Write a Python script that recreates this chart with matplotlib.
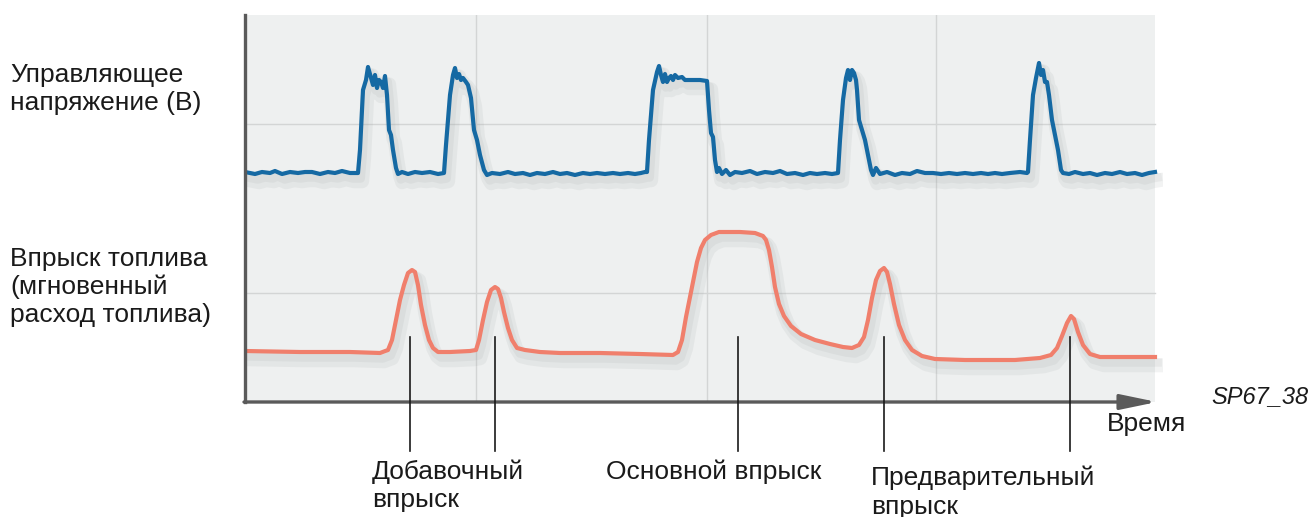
import matplotlib
matplotlib.use('Agg')
import matplotlib.pyplot as plt
import matplotlib.patheffects as pe
from matplotlib.patches import Rectangle

plt.rcParams['font.family'] = ['Liberation Sans', 'DejaVu Sans']

# control voltage trace (time, level)
t_ctrl = [0, 10, 17, 25, 30, 37, 45, 53, 60, 67, 75, 83, 90, 97, 105, 113,
          115, 118, 121, 123, 126, 128, 130, 132, 134, 136, 138, 140, 142, 144, 146, 148, 151, 153,
          157, 163, 170, 177, 185, 193, 199,
          201, 205, 208, 210, 212, 214, 216, 218, 221, 223, 226, 229, 232, 235, 239, 242,
          247, 255, 263, 270, 278, 285, 292, 300, 308, 315, 322, 330, 338, 345, 352, 360, 368, 375,
          383, 390, 396, 400,
          402, 404, 408, 412, 414, 416, 418, 420, 422, 424, 426, 428, 430, 433, 437, 440, 445, 450,
          455, 462, 464, 466, 468, 470, 472, 474, 477, 481, 485, 490, 497, 505, 512, 520, 528, 535,
          542, 550, 558, 565, 572, 580, 587, 593,
          595, 598, 601, 603, 605, 607, 609, 611, 612, 614, 617, 620, 623, 626, 628, 631, 635,
          642, 650, 657, 665, 672, 680, 688, 696, 704, 712, 720, 728, 736, 743, 750, 757, 765, 775, 782,
          783, 785, 788, 791, 794, 796, 798, 800, 802, 804, 807, 810, 813, 816, 818,
          824, 830, 838, 845, 852, 860, 867, 875, 882, 890, 897, 904, 910]
u_ctrl = [230, 228, 230, 229, 231, 228, 230, 229, 230, 230, 228, 230, 229, 231, 229, 229,
          252, 312, 322, 335, 324, 317, 327, 314, 322, 320, 314, 326, 307, 272, 267, 252, 234, 228,
          230, 228, 230, 229, 230, 228, 229,
          257, 307, 327, 334, 324, 328, 322, 324, 320, 317, 304, 272, 262, 247, 232, 227,
          229, 228, 230, 228, 229, 227, 229, 228, 230, 228, 229, 227, 229, 228, 229, 228, 229, 228,
          229, 228, 229, 230,
          230, 262, 312, 330, 336, 327, 320, 328, 320, 324, 326, 322, 327, 324, 325, 322, 322, 322,
          322, 321, 292, 269, 265, 242, 230, 234, 228, 232, 227, 230, 229, 231, 228, 230, 229, 231,
          228, 229, 227, 229, 228, 229, 228, 229,
          262, 302, 324, 332, 322, 332, 329, 322, 312, 282, 272, 262, 247, 232, 227, 234, 228,
          230, 227, 229, 228, 231, 229, 229, 228, 229, 228, 229, 228, 229, 228, 229, 228, 229, 230, 229,
          230, 262, 307, 324, 339, 327, 332, 320, 320, 307, 282, 267, 252, 232, 229,
          228, 230, 228, 229, 227, 229, 228, 230, 228, 229, 227, 229, 230]

# fuel flow rate trace
t_fuel = [0, 55, 105, 135, 143, 147, 151, 155, 159, 163, 167, 170, 173, 176, 180, 184, 188, 193,
          205, 225, 231, 234, 238, 242, 246, 250, 253, 256, 259, 263, 267, 272, 280, 295, 315,
          355, 395, 428, 433, 437, 441, 445, 448, 452, 456, 460, 466, 474, 495, 510, 518,
          521, 524, 527, 530, 534, 539, 546, 556, 570, 585, 598, 607, 614,
          619, 623, 627, 631, 635, 639, 642, 645, 649, 654, 660, 667, 677, 690, 720, 770, 795,
          806, 812, 817, 822, 826, 829, 833, 838, 845, 855, 880, 910]
q_fuel = [51, 50, 50, 49, 52, 62, 82, 102, 117, 129, 132, 130, 117, 97, 77, 62, 54, 50,
          50, 51, 52, 62, 82, 100, 112, 115, 113, 104, 90, 74, 62, 54, 52, 50, 49,
          49, 48, 47, 50, 62, 85, 105, 120, 140, 154, 162, 167, 170, 170, 169, 166,
          162, 152, 135, 115, 98, 86, 76, 68, 62, 58, 55, 54, 57,
          65, 82, 104, 122, 131, 134, 130, 118, 98, 77, 62, 52, 46, 43, 42, 42, 44,
          47, 54, 66, 79, 86, 83, 70, 57, 48, 45, 45, 45]

grid_t = [231, 462, 691]
grid_u = [109, 278]
marker_t = [165, 250, 493, 639, 825]
marker_labels = [('Добавочный\nвпрыск', 372, 459),
                 ('Основной впрыск', 606, 459),
                 ('Предварительный\nвпрыск', 871, 466)]

W, H = 1313, 517
fig = plt.figure(figsize=(W / 100, H / 100), dpi=100)
ax = fig.add_axes([245 / W, (H - 402) / H, 918 / W, 387 / H])
ax.set_xlim(0, 918)
ax.set_ylim(0, 387)
ax.set_facecolor('none')
ax.add_patch(Rectangle((0, 0), 910, 387, facecolor='#eef0f0', edgecolor='none', zorder=0))

for g in grid_t:
    ax.plot([g, g], [0, 387], color='#d3d5d5', lw=1.0, zorder=1)
for g in grid_u:
    ax.plot([0, 910], [g, g], color='#d3d5d5', lw=1.0, zorder=1)

shadow = [pe.SimpleLineShadow(offset=(3, -6), shadow_color='#9aa0a0', alpha=0.12, linewidth=10),
          pe.SimpleLineShadow(offset=(2, -4), shadow_color='#9aa0a0', alpha=0.12, linewidth=6),
          pe.Normal()]
ax.plot(t_ctrl, u_ctrl, color='#1569a3', lw=3.0, solid_joinstyle='round', zorder=3,
        path_effects=shadow)
ax.plot(t_fuel, q_fuel, color='#f07f6c', lw=3.0, solid_joinstyle='round', zorder=3,
        path_effects=shadow)

for m in marker_t:
    ax.plot([m, m], [65, -49], color='#1a1a1a', lw=1.2, clip_on=False, zorder=4)

for s in ax.spines.values():
    s.set_visible(False)
ax.plot([0, 0], [0, 387], color='#5a5a5a', lw=2.4, zorder=5, clip_on=False)
ax.annotate('', xy=(912, 0), xytext=(-1, 0), annotation_clip=False,
            arrowprops=dict(arrowstyle='-|>,head_length=1.3,head_width=0.27', lw=2.4,
                            color='#5a5a5a', mutation_scale=17, shrinkA=0, shrinkB=0))
ax.set_xticks([])
ax.set_yticks([])


def fx(x):
    return x / W


def fy(y):
    return 1 - y / H


fs = 19
fig.text(fx(10), fy(63), 'Управляющее\nнапряжение (В)', fontsize=fs, va='top', ha='left',
         linespacing=1.22, color='#1a1a1a')
fig.text(fx(10), fy(247), 'Впрыск топлива\n(мгновенный\nрасход топлива)', fontsize=fs,
         va='top', ha='left', linespacing=1.2, color='#1a1a1a')
for txt, x, y in marker_labels:
    fig.text(fx(x), fy(y), txt, fontsize=fs, va='top', ha='left', linespacing=1.22,
             color='#1a1a1a')
fig.text(fx(1107), fy(412), 'Время', fontsize=fs, va='top', ha='left', color='#1a1a1a')
fig.text(fx(1211), fy(385), 'SP67_38', fontsize=17, va='top', ha='left', style='italic',
         color='#1a1a1a')

fig.savefig('out.png', dpi=100)
